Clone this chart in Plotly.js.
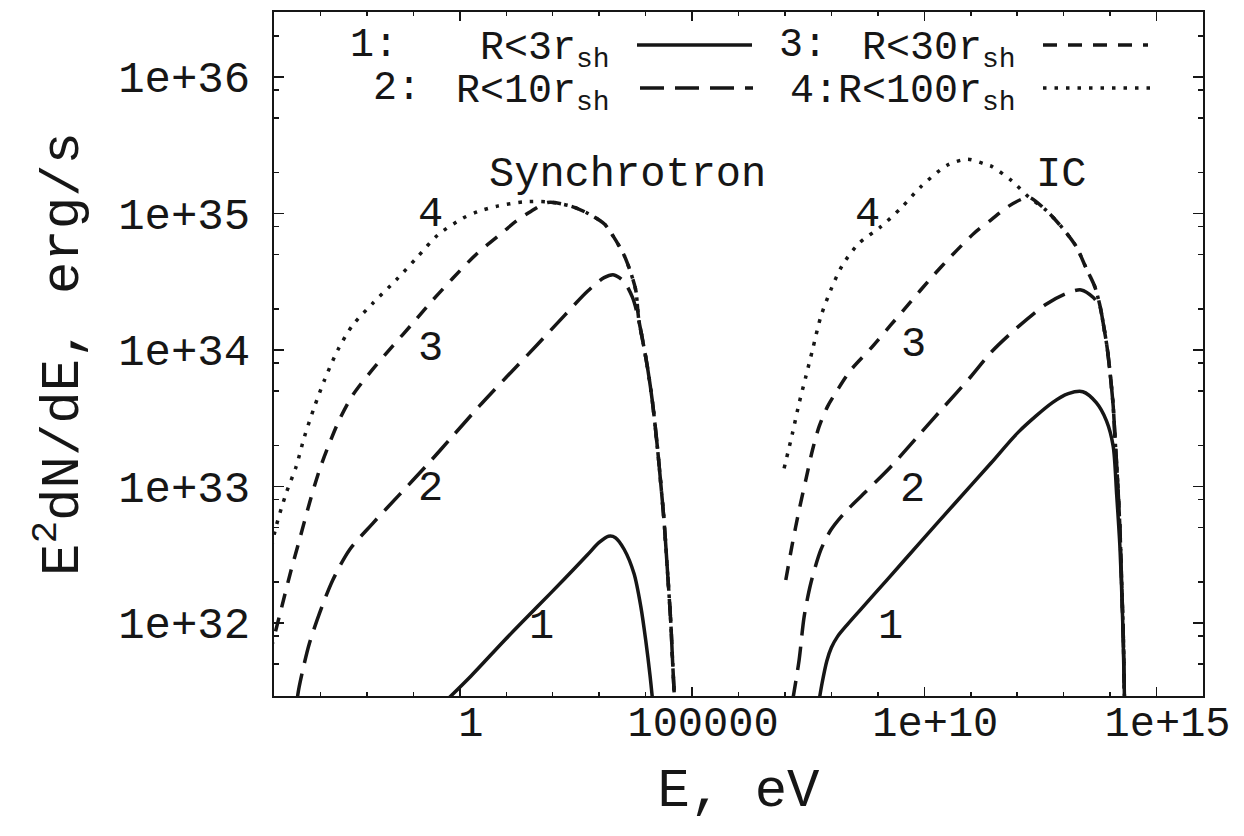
<!DOCTYPE html>
<html>
<head>
<meta charset="utf-8">
<script src="https://cdn.plot.ly/plotly-3.0.1.min.js"></script>
<style>html,body{margin:0;padding:0;background:#fff;}#chart{width:1244px;height:836px;}</style>
</head>
<body>
<div id="chart"></div>
<script>
// ---- Data: log10(E / eV) and log10(E^2 dN/dE / erg s^-1) ----
// Curve 1 : R < 3 r_sh (solid)
const sync1_logE = [-0.60, 0.237, 0.954, 1.672, 2.246, 2.749, 3.0, 3.2, 3.35, 3.537, 3.752, 3.897, 4.004, 4.097, 4.16];
const sync1_logL = [31.33, 31.61, 31.87, 32.12, 32.32, 32.50, 32.59, 32.635, 32.625, 32.54, 32.36, 32.12, 31.87, 31.61, 31.40];
const ic1_logE = [7.70, 7.80, 7.90, 8.0, 8.131, 8.347, 8.633, 9.208, 9.925, 10.642, 11.432, 12.03, 12.758, 13.1, 13.412, 13.703, 13.922, 14.067, 14.14, 14.213, 14.271, 14.308, 14.32];
const ic1_logL = [31.36, 31.56, 31.72, 31.82, 31.90, 31.99, 32.10, 32.32, 32.596, 32.87, 33.17, 33.40, 33.614, 33.68, 33.694, 33.614, 33.481, 33.294, 32.948, 32.548, 32.015, 31.469, 31.30];

// Curve 2 : R < 10 r_sh (long dash)
const sync2_logE = [-3.55, -3.488, -3.38, -3.237, -3.021, -2.734, -2.376, -1.873, -1.299, -0.725, -0.151, 0.423, 1.0, 1.672, 2.246, 2.749, 3.107, 3.32, 3.537, 3.718, 3.826, 3.933, 4.041, 4.149, 4.256, 4.327, 4.399, 4.471, 4.543, 4.578, 4.628];
const sync2_logL = [31.20, 31.473, 31.656, 31.851, 32.071, 32.315, 32.535, 32.73, 32.94, 33.15, 33.37, 33.59, 33.80, 34.04, 34.25, 34.43, 34.53, 34.55, 34.50, 34.385, 34.257, 34.077, 33.872, 33.615, 33.28, 33.02, 32.74, 32.38, 32.0, 31.74, 31.40];
const ic2_logE = [7.15, 7.305, 7.413, 7.557, 7.772, 7.987, 8.274, 8.704, 9.279, 9.853, 10.427, 11.0, 11.449, 12.03, 12.614, 13.048, 13.376, 13.632, 13.776, 13.849, 13.938, 14.009, 14.067, 14.103, 14.155, 14.213, 14.25, 14.286, 14.308, 14.32];
const ic2_logL = [31.40, 31.729, 32.046, 32.291, 32.535, 32.681, 32.804, 32.95, 33.145, 33.365, 33.585, 33.804, 33.987, 34.173, 34.333, 34.413, 34.44, 34.386, 34.319, 34.2, 34.013, 33.8, 33.587, 33.374, 33.081, 32.681, 32.282, 31.883, 31.469, 31.30];

// Curve 3 : R < 30 r_sh (short dash)
const sync3_logE = [-4.1, -3.868, -3.631, -3.452, -3.237, -3.021, -2.806, -2.591, -2.304, -1.873, -1.442, -1.012, -0.581, -0.151, 0.351, 0.811, 1.242, 1.529, 1.887, 2.39, 2.749, 3.107, 3.322, 3.537, 3.681, 3.789, 3.85, 3.933, 4.041, 4.149, 4.256, 4.327, 4.399, 4.471, 4.543, 4.578, 4.628];
const sync3_logL = [31.76, 32.071, 32.388, 32.608, 32.877, 33.121, 33.316, 33.49, 33.67, 33.86, 34.03, 34.196, 34.366, 34.525, 34.70, 34.83, 34.951, 35.015, 35.08, 35.054, 35.002, 34.925, 34.823, 34.694, 34.566, 34.437, 34.23, 34.077, 33.872, 33.615, 33.28, 33.02, 32.74, 32.38, 32.0, 31.74, 31.40];
const ic3_logE = [7.018, 7.162, 7.305, 7.449, 7.593, 7.735, 7.916, 8.131, 8.418, 8.848, 9.279, 9.709, 10.14, 10.57, 11.072, 11.432, 11.8, 12.104, 12.25, 12.614, 12.977, 13.268, 13.485, 13.668, 13.776, 13.849, 13.938, 14.009, 14.067, 14.103, 14.155, 14.213, 14.25, 14.286, 14.308, 14.32];
const ic3_logL = [32.315, 32.584, 32.828, 33.048, 33.267, 33.438, 33.585, 33.707, 33.853, 34.012, 34.183, 34.354, 34.525, 34.684, 34.855, 34.952, 35.05, 35.106, 35.119, 35.026, 34.892, 34.759, 34.599, 34.466, 34.333, 34.2, 34.013, 33.8, 33.587, 33.374, 33.081, 32.681, 32.282, 31.883, 31.469, 31.30];

// Curve 4 : R < 100 r_sh (dotted)
const sync4_logE = [-4.1, -3.955, -3.739, -3.524, -3.344, -3.128, -2.913, -2.626, -2.304, -1.873, -1.371, -0.904, -0.474, 0.065, 0.388, 0.811, 1.385, 1.887, 2.39, 2.749, 3.107, 3.322, 3.537, 3.681, 3.789, 3.85, 3.933, 4.041, 4.149, 4.256, 4.327, 4.399, 4.471, 4.543, 4.578, 4.628];
const sync4_logL = [32.48, 32.706, 32.95, 33.145, 33.365, 33.585, 33.78, 34.0, 34.183, 34.342, 34.513, 34.684, 34.842, 34.965, 35.013, 35.054, 35.085, 35.085, 35.054, 35.002, 34.925, 34.823, 34.694, 34.566, 34.437, 34.23, 34.077, 33.872, 33.615, 33.28, 33.02, 32.74, 32.38, 32.0, 31.74, 31.40];
const ic4_logE = [6.982, 7.162, 7.305, 7.449, 7.593, 7.772, 7.987, 8.239, 8.597, 9.064, 9.494, 9.925, 10.5, 10.93, 11.36, 11.449, 11.884, 12.25, 12.614, 12.977, 13.268, 13.485, 13.668, 13.776, 13.849, 13.938, 14.009, 14.067, 14.103, 14.155, 14.213, 14.25, 14.286, 14.308, 14.32];
const ic4_logL = [33.133, 33.39, 33.61, 33.804, 34.0, 34.244, 34.44, 34.623, 34.782, 34.903, 35.038, 35.196, 35.355, 35.397, 35.355, 35.345, 35.239, 35.119, 35.026, 34.892, 34.759, 34.599, 34.466, 34.333, 34.2, 34.013, 33.8, 33.587, 33.374, 33.081, 32.681, 32.282, 31.883, 31.469, 31.30];

// Ticks
const xTickVals = [1, 1e5, 1e10, 1e15];
const xTickText = ['1', '100000', '1e+10', '1e+15'];
const xMinorVals = [1e-4,1e-3,1e-2,1e-1,1e1,1e2,1e3,1e4,1e6,1e7,1e8,1e9,1e11,1e12,1e13,1e14,1e16];
const yTickVals = [1e32, 1e33, 1e34, 1e35, 1e36];
const yTickText = ['1e+32', '1e+33', '1e+34', '1e+35', '1e+36'];
const yMinorVals = [5e31,8e31,2e32,5e32,8e32,2e33,5e33,8e33,2e34,5e34,8e34,2e35,5e35,8e35,2e36];

// Legend / labels
const legendNums = ['1:', '2:', '3:'];
const legendTexts = ['R&lt;3r<sub>sh</sub>', 'R&lt;10r<sub>sh</sub>', 'R&lt;30r<sub>sh</sub>', '4:R&lt;100r<sub>sh</sub>'];
const curveLabels = ['1', '2', '3', '4'];

// ---- Build ----
const INK = '#161616';
const FONT = 'Liberation Mono, Courier New, monospace';
const toLin = a => a.map(v => Math.pow(10, v));
const dashes = {1: 'solid', 2: '24px,11px', 3: '14px,11px', 4: '3.5px,8px'};
function tr(le, ll, n) {
  return {x: toLin(le), y: toLin(ll), type: 'scatter', mode: 'lines', showlegend: false, hoverinfo: 'skip',
    line: {color: INK, width: 3.5, dash: dashes[n], shape: 'spline', smoothing: 0.8}};
}
const data = [
  tr(sync1_logE, sync1_logL, 1), tr(ic1_logE, ic1_logL, 1),
  tr(sync2_logE, sync2_logL, 2), tr(ic2_logE, ic2_logL, 2),
  tr(sync3_logE, sync3_logL, 3), tr(ic3_logE, ic3_logL, 3),
  tr(sync4_logE, sync4_logL, 4), tr(ic4_logE, ic4_logL, 4)
];

// plot area in pixels: x 274..1203, y 12..696
const PX = {l: 274, r: 1203, t: 12, b: 696};
const px2x = p => (p - PX.l) / (PX.r - PX.l);
const px2y = p => (PX.b - p) / (PX.b - PX.t);

const tf = (s) => ({family: FONT, size: s, color: INK});
const annotations = [];
function txt(text, x, y, size, xanchor, ref) {
  annotations.push({text: text, x: x, y: y, xref: ref || 'x', yref: ref || 'y', showarrow: false,
    font: tf(size), xanchor: xanchor || 'center', yanchor: 'middle'});
}
// curve labels (log10 coords)
txt('Synchrotron', 3.6, 35.28, 42);
txt('IC', 12.94, 35.28, 42);
txt(curveLabels[3], -0.624, 34.989, 42);
txt(curveLabels[2], -0.624, 34.007, 42);
txt(curveLabels[1], -0.624, 32.982, 42);
txt(curveLabels[0], 1.765, 31.971, 42);
txt(curveLabels[3], 8.784, 34.989, 42);
txt(curveLabels[2], 9.774, 34.037, 42);
txt(curveLabels[1], 9.752, 32.974, 42);
txt(curveLabels[0], 9.279, 31.971, 42);
// legend
txt(legendNums[0], px2x(374), px2y(45), 40, 'center', 'paper');
txt(legendTexts[0], px2x(612), px2y(50), 40, 'right', 'paper');
txt(legendNums[1], px2x(397), px2y(88), 40, 'center', 'paper');
txt(legendTexts[1], px2x(612), px2y(93), 40, 'right', 'paper');
txt(legendNums[2], px2x(803), px2y(45), 40, 'center', 'paper');
txt(legendTexts[2], px2x(1018), px2y(50), 40, 'right', 'paper');
txt(legendTexts[3], px2x(1018), px2y(93), 40, 'right', 'paper');

function sample(x0, x1, y, n) {
  return {type: 'line', xref: 'paper', yref: 'paper', x0: px2x(x0), x1: px2x(x1), y0: px2y(y), y1: px2y(y),
    line: {color: INK, width: 3.5, dash: dashes[n]}};
}
const shapes = [
  sample(637, 752, 45, 1),
  sample(640, 753, 88, 2),
  sample(1043, 1148, 45, 3),
  sample(1043, 1158, 88, 4)
];

const axisCommon = {
  type: 'log', showgrid: false, zeroline: false, showline: true, linewidth: 2, linecolor: INK,
  mirror: 'allticks', ticks: 'inside', tickcolor: INK, tickwidth: 1.5, tickmode: 'array'
};
const layout = {
  width: 1244, height: 836,
  margin: {l: PX.l, r: 1244 - PX.r, t: PX.t, b: 836 - PX.b, autoexpand: false},
  paper_bgcolor: '#ffffff', plot_bgcolor: '#ffffff',
  font: tf(40),
  xaxis: Object.assign({}, axisCommon, {
    range: [-4, 16], tickvals: xTickVals, ticktext: xTickText, ticklen: 9,
    tickfont: tf(42), ticklabelshift: 11, ticklabelstandoff: -12,
    minor: {tickmode: 'array', tickvals: xMinorVals, ticks: 'inside', ticklen: 4, tickcolor: INK, tickwidth: 1.5, showgrid: false},
    title: {text: 'E, eV', font: tf(54), standoff: 20}
  }),
  yaxis: Object.assign({}, axisCommon, {
    range: [31.465, 36.476], tickvals: yTickVals, ticktext: yTickText, ticklen: 10,
    tickfont: tf(44), ticklabelstandoff: 13,
    minor: {tickmode: 'array', tickvals: yMinorVals, ticks: 'inside', ticklen: 5, tickcolor: INK, tickwidth: 1.5, showgrid: false},
    title: {text: 'E<sup>2</sup>dN/dE, erg/s', font: tf(54), standoff: 22}
  }),
  annotations: annotations,
  shapes: shapes
};
Plotly.newPlot('chart', data, layout, {staticPlot: true, displayModeBar: false});
</script>
</body>
</html>
